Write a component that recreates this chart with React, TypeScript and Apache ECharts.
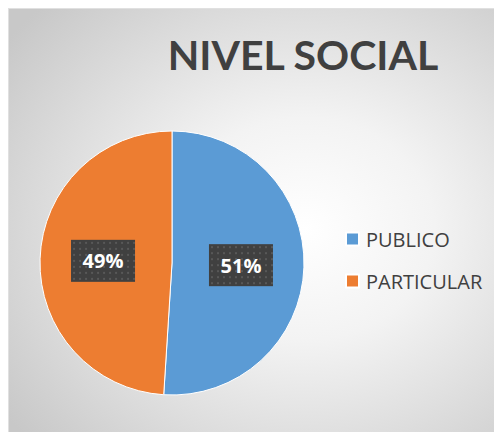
import React, { useEffect, useRef } from "react";
import * as echarts from "echarts";

const categories = ["PUBLICO", "PARTICULAR"];
const values = [51, 49];
const colors = ["#5B9BD5", "#ED7D31"];
const titleText = "NIVEL SOCIAL";

function makePattern(w: number, h: number): string {
  const c = document.createElement("canvas");
  c.width = w;
  c.height = h;
  const ctx = c.getContext("2d");
  if (!ctx) return "";
  ctx.fillStyle = "#404040";
  ctx.fillRect(0, 0, w, h);
  ctx.fillStyle = "#585858";
  for (let y = 2; y < h; y += 6) {
    for (let x = 2; x < w; x += 6) {
      ctx.fillRect(x, y, 2, 2);
    }
  }
  return c.toDataURL();
}

export default function App() {
  const ref = useRef<HTMLDivElement>(null);
  useEffect(() => {
    if (!ref.current) return;
    const chart = echarts.init(ref.current, undefined, { renderer: "svg" });
    const pattern = makePattern(64, 42);
    chart.setOption({
      animation: false,
      backgroundColor: "transparent",
      title: {
        text: titleText,
        left: 289,
        top: 20,
        textAlign: "center",
        textStyle: {
          fontFamily: "Lato",
          fontWeight: "bold",
          fontSize: 41,
          color: "#404040",
        },
      },
      legend: {
        orient: "vertical",
        left: 336,
        top: 220,
        padding: 0,
        icon: "rect",
        itemWidth: 13,
        itemHeight: 13,
        itemGap: 22,
        data: categories,
        textStyle: {
          fontFamily: "Open Sans",
          fontSize: 20,
          color: "#404040",
          padding: [0, 0, 0, 2],
        },
      },
      series: [
        {
          type: "pie",
          center: [163, 254],
          radius: [0, 132],
          startAngle: 90,
          clockwise: true,
          data: categories.map((name, i) => ({
            name,
            value: values[i],
            itemStyle: { color: colors[i] },
          })),
          itemStyle: { borderColor: "#ffffff", borderWidth: 1 },
          label: {
            position: "inside",
            formatter: (p: any) => Math.round(p.percent) + "%",
            fontFamily: "Open Sans",
            fontWeight: "bold",
            fontSize: 20,
            color: "#ffffff",
            width: 64,
            height: 42,
            lineHeight: 42,
            align: "center",
            backgroundColor: pattern ? { image: pattern } : "#404040",
            shadowColor: "rgba(0,0,0,0.45)",
            shadowBlur: 5,
            shadowOffsetX: 4,
            shadowOffsetY: 4,
          },
          labelLine: { show: false },
          emphasis: { disabled: true },
        },
      ],
    });
    return () => chart.dispose();
  }, []);
  return (
    <div
      ref={ref}
      style={{
        width: 494,
        height: 424,
        background:
          "radial-gradient(ellipse 75% 75% at 60% 52%, #ffffff 0%, #f3f3f3 35%, #dcdcdc 70%, #c8c8c8 100%)",
        borderLeft: "1px solid #e0e0e0",
        borderTop: "1px solid #e0e0e0",
        boxSizing: "border-box",
      }}
    />
  );
}
